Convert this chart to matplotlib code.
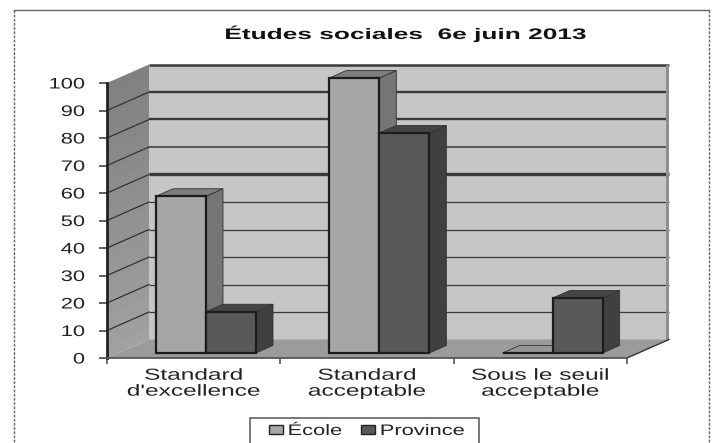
import matplotlib
matplotlib.use('Agg')
import matplotlib.pyplot as plt
import matplotlib.patheffects as pe
import numpy as np
from matplotlib.patches import Polygon, Patch, Rectangle
from matplotlib.lines import Line2D
from matplotlib.transforms import Affine2D

categories = ["Standard\nd'excellence", 'Standard\nacceptable', 'Sous le seuil\nacceptable']
ecole = [57, 100, 0]
province = [15, 80, 20]
y_ticks = [0, 10, 20, 30, 40, 50, 60, 70, 80, 90, 100]
title = 'Études sociales  6e juin 2013'

W, H = 715, 443
# front box of the axes in pixels
left, right, bottom, top = 107, 627, 358, 83
# depth in data units (3 categories = 520 px, 100 = 275 px)
px_x = 3 / (right - left)
px_y = 100 / (bottom - top)
depth_x, depth_y = 42 * px_x, 18.5 * px_y
bar_dx, bar_dy = 17 * px_x, 7.5 * px_y
bar_base = 5 * px_y  # bars stand a bit behind the front edge
bar_w = 50 * px_x
bar_off = 49 * px_x


class Stretch(pe.AbstractPathEffect):
    # the source picture is squeezed sideways, so the text has to be wider than the font
    def __init__(self, sx, anchor='center'):
        super().__init__()
        self.sx = sx
        self.anchor = anchor

    def draw_path(self, renderer, gc, tpath, affine, rgbFace=None):
        ext = affine.transform_path(tpath).get_extents()
        cx = {'left': ext.x0, 'right': ext.x1, 'center': (ext.x0 + ext.x1) / 2}[self.anchor]
        st = Affine2D().translate(-cx, 0).scale(self.sx, 1).translate(cx, 0)
        renderer.draw_path(gc, tpath, affine + st, rgbFace)


def poly(ax, pts, color, edge='none', lw=0, z=1):
    p = Polygon(pts, closed=True, facecolor=color, edgecolor=edge,
                linewidth=lw, clip_on=False, zorder=z, joinstyle='miter')
    ax.add_patch(p)
    return p


def bar3d(ax, x, v, front, side, topc, z):
    b = bar_base
    t = v + b
    ec = '#1c1c1c'
    poly(ax, [(x + bar_w, b), (x + bar_w + bar_dx, b + bar_dy), (x + bar_w + bar_dx, t + bar_dy), (x + bar_w, t)], side, '#333333', 0.6, z)
    poly(ax, [(x, t), (x + bar_w, t), (x + bar_w + bar_dx, t + bar_dy), (x + bar_dx, t + bar_dy)], topc, '#333333', 0.6, z)
    poly(ax, [(x, b), (x + bar_w, b), (x + bar_w, t), (x, t)], front, ec, 1.6, z)


plt.rcParams['font.family'] = ['Liberation Sans', 'DejaVu Sans']
fig = plt.figure(figsize=(W / 100, H / 100), dpi=100)
fig.patch.set_facecolor('white')

ax = fig.add_axes([left / W, 1 - bottom / H, (right - left) / W, (bottom - top) / H])
ax.patch.set_visible(False)
ax.set_xlim(0, 3)
ax.set_ylim(0, 100)

# walls and floor, the side wall shades from dark at the top to lighter at the floor
poly(ax, [(depth_x, depth_y), (3 + depth_x, depth_y), (3 + depth_x, 100 + depth_y), (depth_x, 100 + depth_y)], '#c6c6c6', z=0.5)
bands = np.linspace(0, 100, 26)
for lo, hi in zip(bands[:-1], bands[1:]):
    g = 0.63 - 0.13 * (lo / 100)
    poly(ax, [(0, lo), (depth_x, lo + depth_y), (depth_x, min(hi + 0.5, 100) + depth_y), (0, min(hi + 0.5, 100))], str(g), z=0.6)
poly(ax, [(0, 0), (3, 0), (3 + depth_x, depth_y), (depth_x, depth_y)], '#9b9b9b', z=0.7)

# gridlines along the side wall and the back wall, unevenly heavy as in the scan
grid_lw = {10: 0.9, 20: 0.9, 30: 0.9, 40: 0.9, 50: 0.9, 60: 2.4, 70: 1.1, 80: 1.7, 90: 1.7, 100: 1.8}
for v in y_ticks[1:]:
    if v < 100:
        ax.plot([0, depth_x], [v, v + depth_y], color='#333333', lw=0.9, clip_on=False, zorder=0.8)
    ax.plot([depth_x, 3 + depth_x], [v + depth_y, v + depth_y], color='#3a3a3a', lw=grid_lw[v],
            clip_on=False, zorder=0.8, solid_capstyle='butt')
strip = 3 * px_x
poly(ax, [(3 + depth_x - strip, depth_y), (3 + depth_x, depth_y), (3 + depth_x, 100 + depth_y), (3 + depth_x - strip, 100 + depth_y)], '#8f8f8f', z=0.85)
ax.plot([3, 3 + depth_x], [0, depth_y], color='#333333', lw=1.0, clip_on=False, zorder=0.9)

for i in range(len(categories)):
    x = i + bar_off
    bar3d(ax, x, ecole[i], '#a6a6a6', '#757575', '#7d7d7d' if ecole[i] > 0 else '#969696', 2 + i)
    bar3d(ax, x + bar_w, province[i], '#595959', '#404040', '#454545', 2.5 + i)

ax.spines['top'].set_visible(False)
ax.spines['right'].set_visible(False)
ax.spines['left'].set_linewidth(2)
ax.spines['left'].set_color('#222222')
ax.spines['bottom'].set_linewidth(1.3)
ax.spines['bottom'].set_color('#555555')
ax.spines['left'].set_zorder(10)
ax.spines['bottom'].set_zorder(10)

ax.set_yticks(y_ticks)
ax.set_yticklabels([str(v) for v in y_ticks])
ax.set_xticks([0, 1, 2, 3])
ax.set_xticklabels([])
ax.set_xticks([0.5, 1.5, 2.5], minor=True)
ax.set_xticklabels(categories, minor=True, linespacing=1.08)
ax.tick_params(axis='y', length=6, width=1.2, color='#444444', labelsize=11, labelcolor='#222222', pad=10)
ax.tick_params(axis='x', which='major', length=4, width=1.2, color='#555555')
ax.tick_params(axis='x', which='minor', length=0, labelsize=11.5, labelcolor='#222222', pad=7)
for t in ax.get_yticklabels():
    t.set_path_effects([Stretch(1.43, 'right')])
for t in ax.get_xminorticklabels():
    t.set_path_effects([Stretch(1.53)])

tt = fig.text(406 / W, 1 - 34 / H, title, ha='center', va='center', fontsize=11, fontweight='bold', color='#111111')
tt.set_path_effects([Stretch(1.72)])

# legend frame runs off the bottom of the picture, the entries sit on top of it
fig.add_artist(Rectangle((250 / W, -4 / H), 229 / W, (443 - 418 + 4) / H, transform=fig.transFigure,
                         facecolor='white', edgecolor='#555555', lw=1.1, zorder=-1))
leg = ax.legend(handles=[Patch(facecolor='#a6a6a6', edgecolor='#222222', label='École'),
                         Patch(facecolor='#595959', edgecolor='#222222', label='Province')],
                loc='center left', bbox_to_anchor=(269 / W, 1 - 431 / H), bbox_transform=fig.transFigure,
                ncol=2, frameon=False, fontsize=11, handlelength=0.92, handleheight=0.46,
                handletextpad=0.33, columnspacing=2.3, borderpad=0, borderaxespad=0)
leg.set_zorder(20)
for t in leg.get_texts():
    t.set_color('#222222')
    t.set_path_effects([Stretch(1.43, 'left')])

# scan border: solid top, dashed sides, nothing at the bottom
border = dict(transform=fig.transFigure, color='#666666', lw=1)
fig.add_artist(Line2D([14 / W, 709 / W], [1 - 10 / H, 1 - 10 / H], **border))
fig.add_artist(Line2D([14 / W, 14 / W], [1 - 10 / H, 0], linestyle=(0, (2, 1)), **border))
fig.add_artist(Line2D([709 / W, 709 / W], [1 - 10 / H, 0], linestyle=(0, (2, 1)), **border))

fig.savefig('out.png', dpi=100)
